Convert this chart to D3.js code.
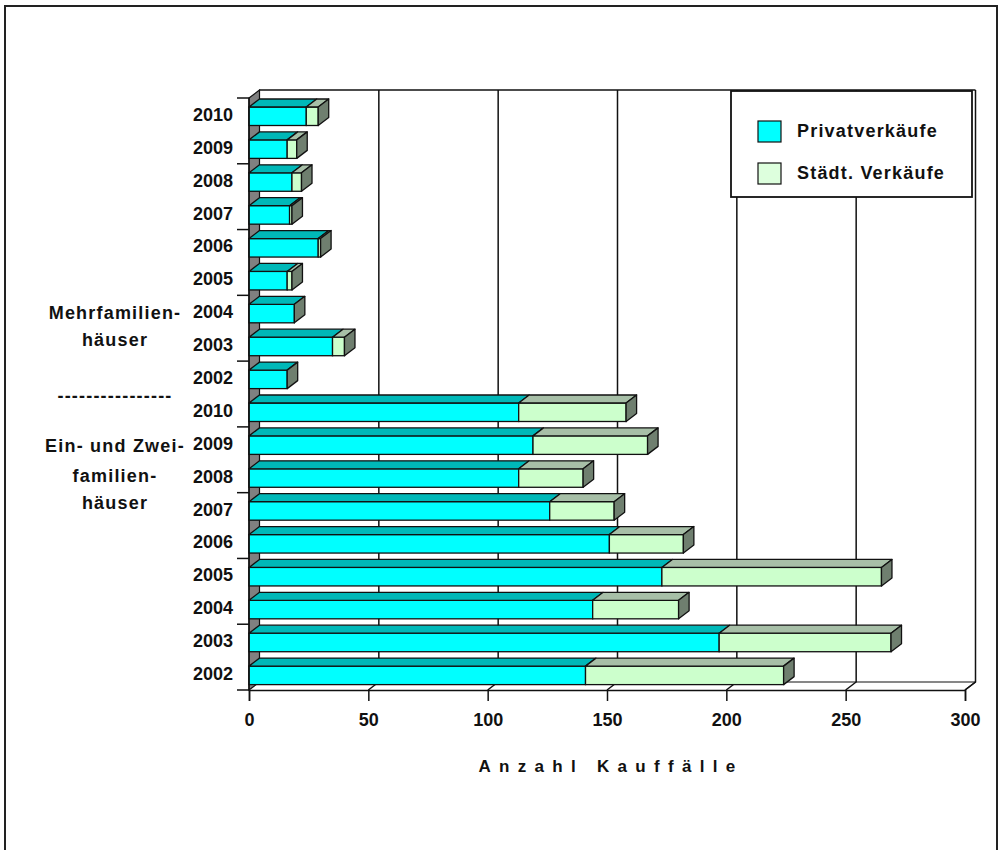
<!DOCTYPE html>
<html>
<head>
<meta charset="utf-8">
<script src="https://cdn.jsdelivr.net/npm/d3@7"></script>
<style>
  body { margin: 0; background: #fff; }
  text { font-family: "Liberation Sans", Arial, sans-serif; font-weight: bold; fill: #111; }
</style>
</head>
<body>
<div id="container"></div>
<script>
/* DATA */
const years = ["2010", "2009", "2008", "2007", "2006", "2005", "2004", "2003", "2002"];
const mfPrivat = [24, 16, 18, 17, 29, 16, 19, 35, 16];
const mfStaedt = [5, 4, 4, 1, 1, 2, 0, 5, 0];
const ezPrivat = [113, 119, 113, 126, 151, 173, 144, 197, 141];
const ezStaedt = [45, 48, 27, 27, 31, 92, 36, 72, 83];
const seriesNames = ["Privatverkäufe", "Städt. Verkäufe"];
const xTicks = [0, 50, 100, 150, 200, 250, 300];

/* CONSTANTS */
const width = 999, height = 850;
const dx = 10.5, dy = 8;   // depth offset of the 3D look
const colors = {
  privat: { front: "#00FFFF", top: "#00B8B8", side: "#008C8C" },
  staedt: { front: "#CCFFCC", top: "#A7BFA7", side: "#6F7F6F" }
};

const rows = years.map((yr, i) => ({ key: "MF" + yr, label: yr, privat: mfPrivat[i], staedt: mfStaedt[i] }))
  .concat(years.map((yr, i) => ({ key: "EZ" + yr, label: yr, privat: ezPrivat[i], staedt: ezStaedt[i] })));

const svg = d3.select("#container")
  .append("svg")
  .attr("width", width)
  .attr("height", height);

// outer frame
svg.append("rect")
  .attr("x", 5).attr("y", 6)
  .attr("width", 992).attr("height", 870)
  .attr("fill", "none")
  .attr("stroke", "#222")
  .attr("stroke-width", 2);

// SCALES
const x = d3.scaleLinear().domain([0, 300]).range([249, 965]);
const y = d3.scaleBand().domain(rows.map(d => d.key)).range([98, 690]);
const yTop = y.range()[0], yBot = y.range()[1];

// LEFT WALL
svg.append("path")
  .attr("d", `M${x(0)},${yTop} L${x(0) + dx},${yTop - dy} L${x(0) + dx},${yBot - dy} L${x(0)},${yBot} Z`)
  .attr("fill", "#808080")
  .attr("stroke", "#111")
  .attr("stroke-width", 1.2);

// back wall top edge
svg.append("line")
  .attr("x1", x(0) + dx).attr("x2", x(300) + dx)
  .attr("y1", yTop - dy).attr("y2", yTop - dy)
  .attr("stroke", "#111").attr("stroke-width", 1.5);

// GRIDLINES (back wall + floor)
svg.selectAll("path.grid")
  .data(xTicks.filter(d => d > 0))
  .join("path")
  .attr("class", "grid")
  .attr("d", d => `M${x(d)},${yBot} L${x(d) + dx},${yBot - dy} L${x(d) + dx},${yTop - dy}`)
  .attr("fill", "none")
  .attr("stroke", "#111")
  .attr("stroke-width", 1.5);

// floor back edge
svg.append("line")
  .attr("x1", x(0) + dx).attr("x2", x(300) + dx)
  .attr("y1", yBot - dy).attr("y2", yBot - dy)
  .attr("stroke", "#111").attr("stroke-width", 1.2);

// LEGEND
const legend = svg.append("g");
legend.append("rect")
  .attr("x", 731).attr("y", 91)
  .attr("width", 241).attr("height", 106)
  .attr("fill", "#fff")
  .attr("stroke", "#111")
  .attr("stroke-width", 1.8);
const legendItems = legend.selectAll("g.item")
  .data(seriesNames)
  .join("g")
  .attr("class", "item")
  .attr("transform", (d, i) => `translate(0, ${i * 42})`);
legendItems.append("rect")
  .attr("x", 758).attr("y", 121)
  .attr("width", 23).attr("height", 21)
  .attr("fill", (d, i) => i === 0 ? colors.privat.front : "#DDFFDD")
  .attr("stroke", "#111")
  .attr("stroke-width", 1.2);
legendItems.append("text")
  .attr("x", 797).attr("y", 131)
  .attr("dy", "0.36em")
  .attr("font-size", 18)
  .attr("letter-spacing", 1.2)
  .text(d => d);

// BARS
const bars = svg.selectAll("g.bar")
  .data(rows)
  .join("g")
  .attr("class", "bar");

const barTop = d => y(d.key) + 1 + dy;          // top of front face
const barH = 18.5;

function face(g, x0, x1, y0, col) {
  // front
  g.append("rect")
    .attr("x", x0).attr("y", y0)
    .attr("width", Math.max(0, x1 - x0)).attr("height", barH)
    .attr("fill", col.front)
    .attr("stroke", "#111").attr("stroke-width", 1.3);
  // top
  g.append("path")
    .attr("d", `M${x0},${y0} L${x0 + dx},${y0 - dy} L${x1 + dx},${y0 - dy} L${x1},${y0} Z`)
    .attr("fill", col.top)
    .attr("stroke", "#111").attr("stroke-width", 1.3)
    .attr("stroke-linejoin", "round");
}

bars.each(function (d) {
  const g = d3.select(this);
  const y0 = barTop(d);
  const xa = x(0), xb = x(d.privat), xc = x(d.privat + d.staedt);
  face(g, xa, xb, y0, colors.privat);
  if (d.staedt > 0) face(g, xb, xc, y0, colors.staedt);
  // right side
  g.append("path")
    .attr("d", `M${xc},${y0} L${xc + dx},${y0 - dy} L${xc + dx},${y0 - dy + barH} L${xc},${y0 + barH} Z`)
    .attr("fill", colors.staedt.side)
    .attr("stroke", "#111").attr("stroke-width", 1.3)
    .attr("stroke-linejoin", "round");
});

// Y AXIS (front edge of left wall)
svg.append("line")
  .attr("x1", x(0)).attr("x2", x(0))
  .attr("y1", yTop).attr("y2", yBot)
  .attr("stroke", "#111").attr("stroke-width", 1.5);

// ticks every second band boundary
const boundaries = d3.range(0, rows.length + 1, 2).map(i => yTop + i * y.step());
svg.selectAll("line.ytick")
  .data(boundaries)
  .join("line")
  .attr("class", "ytick")
  .attr("x1", x(0) - 12).attr("x2", x(0))
  .attr("y1", d => d).attr("y2", d => d)
  .attr("stroke", "#111").attr("stroke-width", 1.5);

// category labels
svg.selectAll("text.cat")
  .data(rows)
  .join("text")
  .attr("class", "cat")
  .attr("x", 233)
  .attr("y", d => y(d.key) + y.bandwidth() / 2)
  .attr("dy", "0.36em")
  .attr("text-anchor", "end")
  .attr("font-size", 18)
  .text(d => d.label);

// X AXIS
const xAxis = svg.append("g")
  .attr("transform", `translate(0, ${yBot})`)
  .call(d3.axisBottom(x).tickValues(xTicks).tickSize(11).tickPadding(12));
xAxis.select(".domain").attr("stroke", "#111").attr("stroke-width", 1.5);
xAxis.selectAll(".tick line").attr("stroke", "#111").attr("stroke-width", 1.5);
xAxis.selectAll(".tick text")
  .attr("font-size", 18)
  .attr("font-family", "Liberation Sans, Arial, sans-serif")
  .attr("font-weight", "bold")
  .attr("fill", "#111");

// right wall corner slant
svg.append("line")
  .attr("x1", x(300)).attr("y1", yBot)
  .attr("x2", x(300) + dx).attr("y2", yBot - dy)
  .attr("stroke", "#111").attr("stroke-width", 1.5);

// axis title
svg.append("text")
  .attr("x", 611).attr("y", 766)
  .attr("dy", "0.36em")
  .attr("text-anchor", "middle")
  .attr("font-size", 17)
  .attr("letter-spacing", 8.3)
  .text("Anzahl Kauffälle");

// group labels
const groupLines = [
  { t: "Mehrfamilien-", y: 313 },
  { t: "häuser", y: 340 },
  { t: "----------------", y: 396 },
  { t: "Ein- und Zwei-", y: 446 },
  { t: "familien-", y: 476 },
  { t: "häuser", y: 503 }
];
svg.selectAll("text.group")
  .data(groupLines)
  .join("text")
  .attr("class", "group")
  .attr("x", 115)
  .attr("y", d => d.y)
  .attr("dy", "0.36em")
  .attr("text-anchor", "middle")
  .attr("font-size", 18)
  .attr("letter-spacing", 1.2)
  .text(d => d.t);
</script>
</body>
</html>
